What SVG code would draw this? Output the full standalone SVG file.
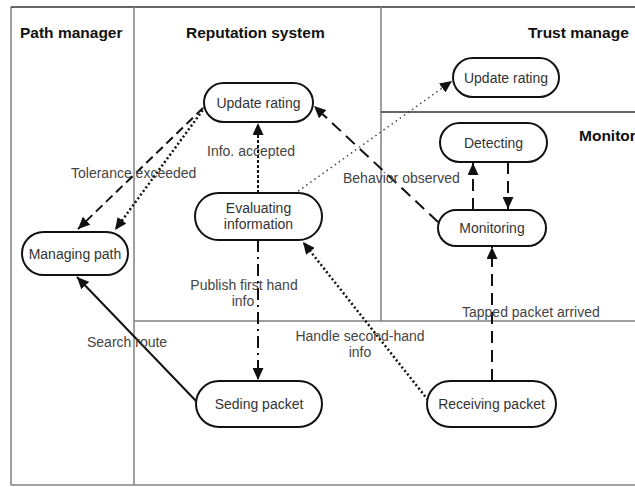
<svg xmlns="http://www.w3.org/2000/svg" width="635" height="487" viewBox="0 0 635 487">
<style>
.lane{stroke:#808080;stroke-width:1.5;fill:none}
.laned{stroke:#333;stroke-width:1.5;fill:none}
.hdr{font-family:"Liberation Sans",Arial,sans-serif;font-weight:bold;font-size:15.5px;fill:#111}
.node rect{fill:#fff;stroke:#111;stroke-width:2}
.node text{font-family:"Liberation Sans",Arial,sans-serif;font-size:14px;fill:#333;text-anchor:middle}
.lbl{font-family:"Liberation Sans",Arial,sans-serif;font-size:14px;fill:#444}
.e{fill:none;stroke:#111;stroke-width:2}
.dash{stroke-dasharray:12,7}
.dashs{stroke-dasharray:9,5}
.dot{stroke-dasharray:2,2.5;stroke-width:2.5}
.dotf{stroke-dasharray:1.5,3.5;stroke-width:1.5;stroke:#444}
.dd{stroke-dasharray:12,5,2,5}
.dsm{stroke-dasharray:3,2}
</style>
<defs>
<marker id="ah" markerUnits="userSpaceOnUse" markerWidth="12" markerHeight="11" refX="12" refY="5.5" orient="auto">
<path d="M0,0 L12,5.5 L0,11 z" fill="#111"/>
</marker>
</defs>
<rect width="635" height="487" fill="#fff"/>
<g id="lanes">
<line class="lane" x1="11" y1="7" x2="11" y2="485"/>
<line class="lane" x1="11" y1="485" x2="635" y2="485"/>
<line class="laned" x1="11" y1="7" x2="635" y2="7"/>
<line class="lane" x1="134" y1="7" x2="134" y2="485"/>
<line class="lane" x1="381" y1="7" x2="381" y2="321"/>
<line class="lane" x1="134" y1="321" x2="635" y2="321"/>
<line class="laned" x1="381" y1="112" x2="635" y2="112"/>
<text class="hdr" x="20" y="38">Path manager</text>
<text class="hdr" x="186" y="38">Reputation system</text>
<text class="hdr" x="528" y="38">Trust manage</text>
<text class="hdr" x="579" y="141">Monitor</text>
</g>
<g id="connectors">
<path class="e dashs" d="M203,108 L78,229" marker-end="url(#ah)"/>
<path class="e dot" d="M208,103 L115,230" marker-end="url(#ah)"/>
<path class="e dsm" d="M258,193 L258,123" marker-end="url(#ah)"/>
<path class="e dash" d="M438,222 L314,106" marker-end="url(#ah)"/>
<path class="e dotf" d="M290,197 L452,81" marker-end="url(#ah)"/>
<path class="e dash" d="M473,210 L473,163" marker-end="url(#ah)"/>
<path class="e dash" d="M508,162 L508,209" marker-end="url(#ah)"/>
<path class="e dash" d="M492,381 L492,247" marker-end="url(#ah)"/>
<path class="e dot" d="M428,400 L303,242" marker-end="url(#ah)"/>
<path class="e dd" d="M258,240 L258,380" marker-end="url(#ah)"/>
<path class="e" d="M197,402 L77,277" marker-end="url(#ah)"/>
<text class="lbl" x="71" y="178">Tolerance exceeded</text>
<text class="lbl" x="207" y="156">Info. accepted</text>
<text class="lbl" x="343" y="183">Behavior observed</text>
<text class="lbl" x="462" y="317">Tapped packet arrived</text>
<text class="lbl" x="244" y="290" text-anchor="middle">Publish first hand</text>
<text class="lbl" x="243" y="306" text-anchor="middle">info</text>
<text class="lbl" x="360" y="341" text-anchor="middle">Handle second-hand</text>
<text class="lbl" x="360" y="357" text-anchor="middle">info</text>
<text class="lbl" x="87" y="347">Search route</text>
</g>
<g id="n_update_rep" class="node"><rect x="204" y="83" width="109" height="39" rx="19.5"/><text x="258.5" y="107.5">Update rating</text></g>
<g id="n_update_trust" class="node"><rect x="453" y="58" width="106" height="39" rx="19.5"/><text x="506" y="82.5">Update rating</text></g>
<g id="n_detecting" class="node"><rect x="440" y="123" width="107" height="39" rx="19.5"/><text x="493.5" y="147.5">Detecting</text></g>
<g id="n_monitoring" class="node"><rect x="438" y="210" width="108" height="36" rx="18"/><text x="492" y="233">Monitoring</text></g>
<g id="n_evaluating" class="node"><rect x="195" y="193" width="127" height="47" rx="23.5"/><text x="258.5" y="213">Evaluating</text><text x="258.5" y="229">information</text></g>
<g id="n_managing" class="node"><rect x="22" y="232" width="106" height="43" rx="21.5"/><text x="75" y="258.5">Managing path</text></g>
<g id="n_seding" class="node"><rect x="196" y="381" width="126" height="46" rx="23"/><text x="259" y="408.5">Seding packet</text></g>
<g id="n_receiving" class="node"><rect x="427" y="381" width="129" height="46" rx="23"/><text x="491.5" y="408.5">Receiving packet</text></g>
</svg>
